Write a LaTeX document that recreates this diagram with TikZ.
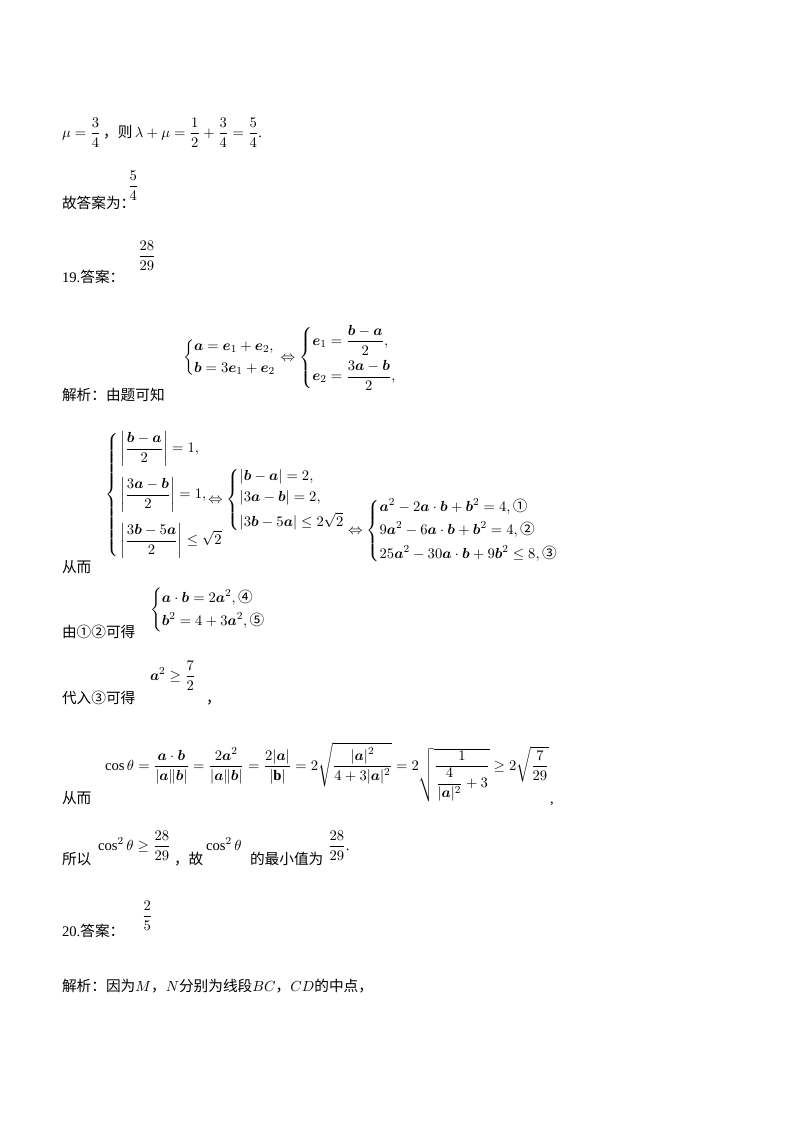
\documentclass[tikz,border=0pt]{standalone}
\usepackage{amsmath,amssymb}
\usepackage{fontspec}
\setmainfont{Liberation Serif}
\newfontfamily\cjk{Noto Sans CJK SC}
\newcommand{\bv}[1]{\boldsymbol{#1}}
\begin{document}
\begin{tikzpicture}[x=0.75pt,y=-0.75pt,
  every node/.style={inner sep=0pt,outer sep=0pt,font=\fontsize{11}{13}\selectfont},
  txt/.style={anchor=base west}]
\useasboundingbox (0,0) rectangle (800,1132);
% 1
\node[txt] (l1) at (62,137) {$\mu=\dfrac{3}{4}$\,{\cjk ，则}\,$\lambda+\mu=\dfrac{1}{2}+\dfrac{3}{4}=\dfrac{5}{4}$.};
% 2
\node[txt] (l2) at (62,208) {\cjk 故答案为：};
\node[txt] (f2) at (128,190) {$\dfrac{5}{4}$};
% 3
\node[txt] (l3) at (62,282) {19.{\cjk 答案：}};
\node[txt] (f3) at (138,260) {$\dfrac{28}{29}$};
% 4
\node[txt] (l4) at (62,400) {\cjk 解析：由题可知};
\node[anchor=west] (s4) at (183,358) {$\left\{\begin{aligned}&\bv a=\bv e_1+\bv e_2,\\&\bv b=3\bv e_1+\bv e_2\end{aligned}\right.\Leftrightarrow\left\{\begin{aligned}&\bv e_1=\frac{\bv b-\bv a}{2},\\&\bv e_2=\frac{3\bv a-\bv b}{2},\end{aligned}\right.$};
% 5
\node[txt] (l5) at (62,572) {\cjk 从而};
\node[anchor=west] (s5a) at (105,495) {$\left\{\begin{aligned}&\left|\frac{\bv b-\bv a}{2}\right|=1,\\[4pt]&\left|\frac{3\bv a-\bv b}{2}\right|=1,\\[4pt]&\left|\frac{3\bv b-5\bv a}{2}\right|\le\sqrt2\end{aligned}\right.$};
\node[anchor=west] (s5b) at (208,500) {$\Leftrightarrow\left\{\begin{aligned}&|\bv b-\bv a|=2,\\&|3\bv a-\bv b|=2,\\&|3\bv b-5\bv a|\le2\sqrt2\end{aligned}\right.$};
\node[anchor=west] (s5c) at (348,531) {$\Leftrightarrow\left\{\begin{aligned}&\bv a^2-2\bv a\cdot\bv b+\bv b^2=4,\text{\cjk ①}\\&9\bv a^2-6\bv a\cdot\bv b+\bv b^2=4,\text{\cjk ②}\\&25\bv a^2-30\bv a\cdot\bv b+9\bv b^2\le8,\text{\cjk ③}\end{aligned}\right.$};
% 6
\node[txt] (l6) at (62,637) {\cjk 由①②可得};
\node[anchor=west] (s6) at (150,610) {$\left\{\begin{aligned}&\bv a\cdot\bv b=2\bv a^2,\text{\cjk ④}\\&\bv b^2=4+3\bv a^2,\text{\cjk ⑤}\end{aligned}\right.$};
% 7
\node[txt] (l7) at (62,703) {\cjk 代入③可得};
\node[txt] (s7) at (150,680) {$\bv a^2\ge\dfrac{7}{2}$};
\node[txt] at (206,703) {\cjk ，};
% 8
\node[txt] (l8) at (62,803) {\cjk 从而};
\node[txt] (s8) at (105,770) {$\cos\theta=\dfrac{\bv a\cdot\bv b}{|\bv a\|\bv b|}=\dfrac{2\bv a^2}{|\bv a\|\bv b|}=\dfrac{2|\bv a|}{|\mathbf b|}=2\sqrt{\dfrac{|\bv a|^2}{4+3|\bv a|^2}}=2\sqrt{\dfrac{1}{\dfrac{4}{|\bv a|^2}+3}}\ge2\sqrt{\dfrac{7}{29}}$};
\node[txt] at (550,803) {,};
% 9
\node[txt] (l9) at (62,864) {\cjk 所以};
\node[txt] (s9) at (98,850) {$\cos^2\theta\ge\dfrac{28}{29}$};
\node[txt] (s9b) at (174,864) {\cjk ，故};
\node[txt] (s9c) at (206,850) {$\cos^2\theta$};
\node[txt] (s9d) at (250,864) {\cjk 的最小值为};
\node[txt] (s9e) at (328,850) {$\dfrac{28}{29}$.};
% 10
\node[txt] (l10) at (62,936) {20.{\cjk 答案：}};
\node[txt] (f10) at (142,920) {$\dfrac{2}{5}$};
% 11
\node[txt] (l11) at (62,991) {{\cjk 解析：因为}$M${\cjk ，}$N${\cjk 分别为线段}$BC${\cjk ，}$CD${\cjk 的中点，}};
\end{tikzpicture}
\end{document}
